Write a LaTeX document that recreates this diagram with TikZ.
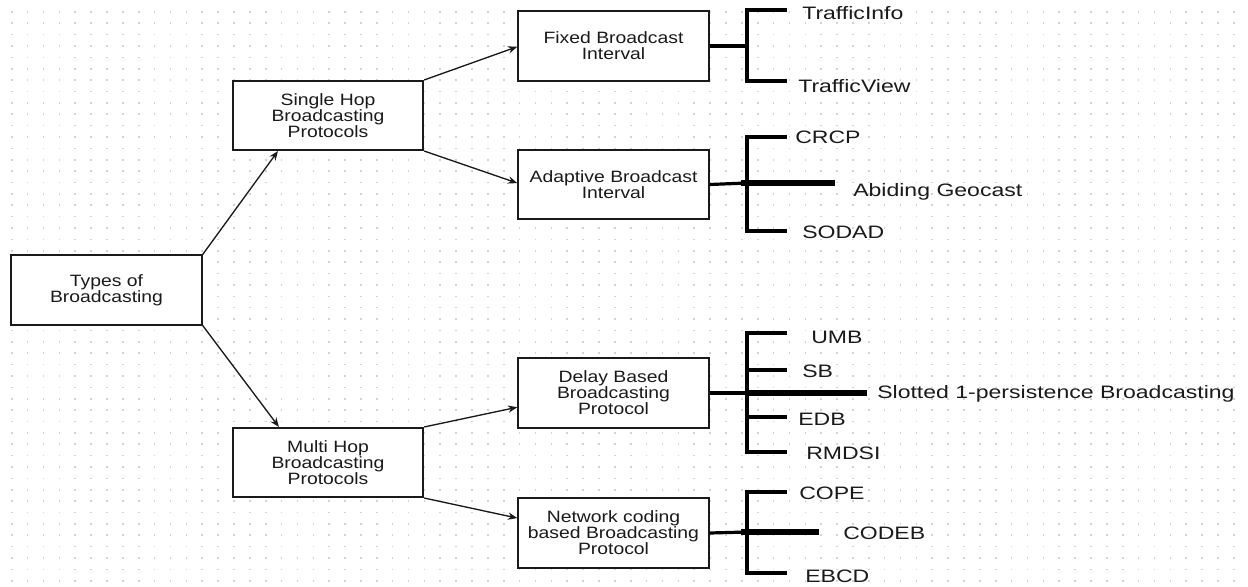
\documentclass[tikz,border=0pt]{standalone}
\usepackage{fontspec}
\setmainfont{Liberation Sans}
\newfontfamily\boxfont{Liberation Sans}[FakeStretch=1.18]
\newfontfamily\leaffont{Liberation Sans}[FakeStretch=1.28]
\usetikzlibrary{arrows.meta,calc}
\definecolor{dotc}{HTML}{D2D2D2}
\definecolor{ink}{HTML}{1A1A1A}
\begin{document}
\begin{tikzpicture}[x=0.75pt,y=-0.75pt,
  box/.style={draw=ink,line width=1.3pt,fill=white,minimum width=143pt,minimum height=52pt,
    inner sep=0pt,align=center,font=\boxfont\fontsize{12.3}{12}\selectfont,text=ink},
  leaf/.style={anchor=west,inner sep=0pt,font=\leaffont\fontsize{13.5}{14}\selectfont,text=ink},
  arr/.style={draw=ink,line width=1pt,-{Stealth[length=7pt,width=5.5pt]}},
  spine/.style={draw=black,line width=2.4pt,line join=miter},
  heavy/.style={draw=black,line width=4pt}]
\useasboundingbox (0,0) rectangle (1248,586);
\fill[white] (0,0) rectangle (1248,586);
% dotted grid
\foreach \i in {0,...,77}{
  \foreach \j in {0,...,50}{
    \fill[dotc] ({11+\i*15.87},{11+\j*11.38}) rectangle +(1.6,1.6);
  }
}
% boxes
\node[box] (types)    at (106.5,290)   {Types of\\Broadcasting};
\node[box] (single)   at (328,115.5)   {Single Hop\\Broadcasting\\Protocols};
\node[box] (multi)    at (328,462.5)   {Multi Hop\\Broadcasting\\Protocols};
\node[box] (fixed)    at (613.5,46)    {Fixed Broadcast\\Interval};
\node[box] (adaptive) at (613.5,184.5) {Adaptive Broadcast\\Interval};
\node[box] (delay)    at (613.5,393)   {Delay Based\\Broadcasting\\Protocol};
\node[box] (network)  at (613.5,533)   {Network coding\\based Broadcasting\\Protocol};
% arrows
\draw[arr] (types.north east) -- ($(single.south west)!0.24!(single.south east)$);
\draw[arr] (types.south east) -- ($(multi.north west)!0.245!(multi.north east)$);
\draw[arr] (single.north east) -- ($(fixed.north west)!0.51!(fixed.south west)$);
\draw[arr] (single.south east) -- ($(adaptive.north west)!0.48!(adaptive.south west)$);
\draw[arr] (multi.north east) -- ($(delay.north west)!0.7!(delay.south west)$);
\draw[arr] (multi.south east) -- ($(network.north west)!0.29!(network.south west)$);
% ---- Fixed group
\coordinate (fJ) at (747,46);
\coordinate (fS1) at (747,10);  \coordinate (fT1) at (787,10);
\coordinate (fS2) at (747,81);  \coordinate (fT2) at (787,81);
\node[leaf] (trafficinfo) at (802,13) {TrafficInfo};
\node[leaf] (trafficview) at (798,86) {TrafficView};
\draw[spine] (fixed.east) -- (fJ);
\draw[spine] (fT1) -- (fS1) -- (fS2) -- (fT2);
% ---- Adaptive group
\coordinate (aJ) at (747,183);
\coordinate (aH1) at (741,183); \coordinate (aH2) at (835,183);
\coordinate (aS1) at (747,137); \coordinate (aT1) at (787,137);
\coordinate (aS2) at (747,231); \coordinate (aT2) at (787,231);
\node[leaf] (crcp)    at (795,137) {CRCP};
\node[leaf] (abiding) at (853,192) {Abiding Geocast};
\node[leaf] (sodad)   at (802,232) {SODAD};
\draw[spine] (adaptive.east) -- (aJ);
\draw[spine] (aT1) -- (aS1) -- (aS2) -- (aT2);
\draw[heavy] (aH1) -- (aH2);
% ---- Delay group
\coordinate (dJ) at (747,393);
\coordinate (dH2) at (867,393);
\coordinate (dS1) at (747,333); \coordinate (dT1) at (787,333);
\coordinate (dS2) at (747,370); \coordinate (dT2) at (787,370);
\coordinate (dS3) at (747,417); \coordinate (dT3) at (787,417);
\coordinate (dS4) at (747,452); \coordinate (dT4) at (787,452);
\node[leaf] (umb)     at (811,337) {UMB};
\node[leaf] (sb)      at (802,371) {SB};
\node[leaf] (slotted) at (877,394) {Slotted 1-persistence Broadcasting};
\node[leaf] (edb)     at (798,419) {EDB};
\node[leaf] (rmdsi)   at (806,453) {RMDSI};
\draw[spine] (delay.east) -- (dJ);
\draw[spine] (dT1) -- (dS1) -- (dS4) -- (dT4);
\draw[spine] (dS2) -- (dT2);
\draw[spine] (dS3) -- (dT3);
\draw[heavy] (dJ) -- (dH2);
% ---- Network group
\coordinate (nJ) at (747,532);
\coordinate (nH1) at (741,532); \coordinate (nH2) at (819,532);
\coordinate (nS1) at (747,492); \coordinate (nT1) at (787,492);
\coordinate (nS2) at (747,573); \coordinate (nT2) at (787,573);
\node[leaf] (cope)  at (799,493) {COPE};
\node[leaf] (codeb) at (843,533) {CODEB};
\node[leaf] (ebcd)  at (805,576) {EBCD};
\draw[spine] (network.east) -- (nJ);
\draw[spine] (nT1) -- (nS1) -- (nS2) -- (nT2);
\draw[heavy] (nH1) -- (nH2);
\end{tikzpicture}
\end{document}
